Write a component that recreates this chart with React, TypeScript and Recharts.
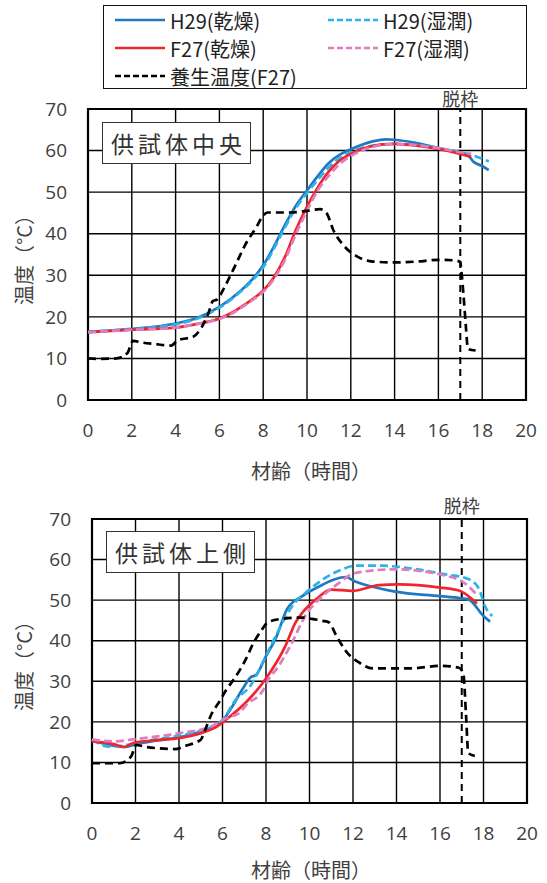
import React from 'react';
import { LineChart, Line, XAxis, YAxis, CartesianGrid, ReferenceLine, ReferenceArea } from 'recharts';

// [材齢(h), 温度(°C)]
const xTicks = [0, 2, 4, 6, 8, 10, 12, 14, 16, 18, 20];
const yTicks = [0, 10, 20, 30, 40, 50, 60, 70];
const demoldTime = 17;

// 供試体中央
const centerH29Dry: [number, number][] = [
  [0, 16.4], [1, 16.7], [2, 17.1], [3, 17.6], [4, 18.4], [5, 19.8], [6, 22.4], [7, 26.4], [7.5, 29],
  [8, 32.4], [8.5, 37], [9, 42.2], [9.5, 46.8], [10, 50.4], [10.5, 53.9], [11, 57], [11.5, 59], [12, 60.3],
  [12.5, 61.4], [13, 62.2], [13.6, 62.7], [14, 62.6], [15, 61.8], [16, 60.6], [17, 59.4], [17.4, 58.6],
  [17.6, 57.3], [18, 56.3], [18.3, 55.3],
];
const centerH29Wet: [number, number][] = [
  [0, 16.4], [1, 16.7], [2, 17.0], [3, 17.5], [4, 18.2], [5, 19.6], [6, 22.2], [7, 26.2], [7.5, 28.7],
  [8, 31.9], [8.5, 36.5], [9, 41.6], [9.5, 46.2], [10, 49.8], [10.5, 53], [11, 56], [11.5, 58.2], [12, 59.6],
  [12.5, 60.6], [13, 61.2], [14, 61.6], [15, 61.3], [16, 60.6], [17, 59.6], [17.6, 58.8], [18.3, 57.4],
];
const centerF27Dry: [number, number][] = [
  [0, 16.3], [1, 16.6], [2, 16.9], [3, 17.1], [4, 17.4], [5, 18.3], [6, 19.6], [6.5, 20.8], [7, 22.4],
  [7.5, 24.2], [8, 26.3], [8.5, 29.6], [9, 34.5], [9.5, 41], [10, 46.5], [10.5, 51.2], [11, 55], [11.5, 57.6],
  [12, 59.2], [12.5, 60.4], [13, 61.1], [13.5, 61.5], [14, 61.6], [15, 61.2], [16, 60.4], [17, 59.2], [17.5, 58.5],
];
const centerF27Wet: [number, number][] = [
  [0, 16.3], [1, 16.6], [2, 16.9], [3, 17.1], [4, 17.4], [5, 18.3], [6, 19.5], [6.5, 20.6], [7, 22.2],
  [7.5, 24], [8, 26], [8.5, 29.2], [9, 33.8], [9.5, 40], [10, 45.5], [10.5, 50.5], [11, 54], [11.5, 56.8],
  [12, 58.7], [12.5, 60], [13, 60.9], [14, 61.6], [15, 61.3], [16, 60.6], [17, 59.6], [17.5, 59.2],
];
const centerCuring: [number, number][] = [
  [0, 10], [0.5, 9.9], [1.3, 10], [1.8, 11.3], [2.05, 14.2], [2.5, 13.8], [3, 13.5], [3.8, 13.1], [4.1, 14.4],
  [4.8, 15.2], [5.2, 17.6], [5.5, 20.9], [5.7, 23.8], [5.9, 24.2], [6.2, 26.8], [6.6, 31], [7.25, 38],
  [7.7, 41.7], [7.95, 44], [8.2, 45.1], [9.2, 45.1], [10, 45.5], [10.6, 45.9], [10.9, 44.9], [11.2, 40.9],
  [11.65, 37.3], [12.3, 34.5], [13, 33.3], [14, 33.1], [15, 33.3], [16, 33.7], [16.7, 33.6], [17, 33.2],
  [17.05, 31], [17.15, 25], [17.25, 18], [17.35, 12.3], [17.7, 11.9],
];

// 供試体上側
const upperH29Dry: [number, number][] = [
  [0, 15.4], [0.8, 14.3], [1.5, 13.8], [1.95, 14.4], [3, 15.4], [4, 16.2], [5.2, 18], [6, 20.3], [6.45, 23.8],
  [6.9, 27.9], [7.3, 31], [7.55, 31.6], [8, 36.2], [8.45, 40.6], [8.98, 47.9], [9.67, 51], [10.6, 53.8],
  [11.2, 55.2], [11.65, 55.7], [12.1, 54.6], [12.9, 53.3], [13.94, 52.1], [16, 51], [16.9, 50.5],
  [17.3, 50.2], [18, 46.1], [18.3, 44.7],
];
const upperH29Wet: [number, number][] = [
  [0, 15.7], [0.8, 13.9], [1.6, 14.3], [2, 14.8], [4, 16.6], [5, 17.8], [6, 20.5], [6.6, 25.4], [7.3, 29],
  [8, 36.3], [8.6, 42.8], [9.2, 48.5], [10, 52.6], [10.7, 55.4], [11.5, 57.6], [12.1, 58.5], [13.2, 58.5],
  [14.7, 57.8], [16.2, 56.4], [17.3, 55.2], [17.8, 52.7], [18.06, 48.6], [18.4, 46.1],
];
const upperF27Dry: [number, number][] = [
  [0, 15.2], [1, 14.5], [1.5, 13.8], [1.9, 14.8], [3, 15.5], [4, 16], [5.1, 17.4], [5.7, 18.7], [6.2, 20.7],
  [7.15, 25.2], [8, 30.7], [8.9, 38.8], [9.36, 44.5], [9.67, 46.9], [10.3, 50.2], [11, 52.6], [11.95, 52.3],
  [13.2, 53.7], [14.1, 53.9], [16, 53.1], [16.9, 52.3], [17.3, 51], [17.7, 49.2],
];
const upperF27Wet: [number, number][] = [
  [0, 15.7], [1, 15.2], [1.9, 15.7], [4, 17.2], [5.5, 18.9], [6.15, 20.9], [6.8, 22.3], [7.1, 24.2],
  [7.84, 27.6], [8.1, 30.3], [8.6, 33.9], [9.2, 39.6], [9.8, 46.1], [10.6, 51], [11.35, 54.2], [12.1, 56.7],
  [13.9, 57.6], [16.2, 56.1], [17.1, 54.3], [17.75, 51],
];
const upperCuring: [number, number][] = [
  [0, 9.8], [1.27, 9.8], [1.8, 11.5], [2.03, 14.3], [2.5, 13.8], [3.86, 13.3], [4.3, 14.1], [5, 15.6],
  [5.2, 18], [5.5, 22], [5.86, 25], [6.16, 27.8], [6.55, 30.7], [7.08, 35.5], [7.4, 39.2], [7.77, 42.4],
  [8.07, 44.5], [8.6, 45.3], [9.67, 45.7], [10.1, 45.4], [10.6, 44.9], [10.9, 44.5], [11.2, 41.6],
  [11.65, 37.6], [12.26, 34.7], [12.9, 33.2], [14.7, 33.2], [16, 33.8], [16.84, 33.4], [17.07, 32],
  [17.2, 21.3], [17.3, 12.3], [17.6, 11.6],
];

const FONT = '"Noto Sans CJK JP", "Noto Sans", sans-serif';
const NUM_FONT = '"Open Sans", "Noto Sans", sans-serif';
const TEXT = '#404040';

const seriesStyle = [
  { name: 'H29(乾燥)', color: '#1f78c1', dash: undefined },
  { name: 'H29(湿潤)', color: '#2bb3e8', dash: '8 4' },
  { name: 'F27(乾燥)', color: '#f0262e', dash: undefined },
  { name: 'F27(湿潤)', color: '#e07cc0', dash: '8 4' },
  { name: '養生温度(F27)', color: '#000000', dash: '8 5' },
];

const toRows = (pairs: [number, number][]) => pairs.map(([t, v]) => ({ t, v }));

type PanelProps = {
  top: number;
  height: number;
  margin: { top: number; right: number; left: number; bottom: number };
  title: string;
  titleBox: { left: number; top: number };
  series: [number, number][][];
  labelOffset: number;
};

function Panel({ top, height, margin, title, titleBox, series, labelOffset }: PanelProps) {
  return (
    <div style={{ position: 'absolute', left: 0, top, width: 547, height }}>
      <LineChart width={547} height={height} margin={margin}>
        <CartesianGrid stroke="#000" strokeWidth={1.4} />
        <XAxis
          type="number"
          dataKey="t"
          domain={[0, 20]}
          ticks={xTicks}
          interval={0}
          height={80}
          axisLine={false}
          tickLine={false}
          tickMargin={18}
          tick={{ fontSize: 19, fill: TEXT, fontFamily: NUM_FONT }}
        />
        <YAxis
          type="number"
          domain={[0, 70]}
          ticks={yTicks}
          interval={0}
          width={60}
          axisLine={false}
          tickLine={false}
          tickMargin={15}
          tick={{ fontSize: 19, fill: TEXT, fontFamily: NUM_FONT }}
        />
        <ReferenceArea x1={0} x2={20} y1={0} y2={70} fill="none" fillOpacity={0} stroke="#000" strokeWidth={2.2} />
        <ReferenceLine
          x={demoldTime}
          stroke="#000"
          strokeWidth={2}
          strokeDasharray="7 5"
          label={{ value: '脱枠', position: 'top', offset: labelOffset, fill: TEXT, fontSize: 18, fontFamily: FONT }}
        />
        {series.map((pairs, i) => (
          <Line
            key={seriesStyle[i].name}
            data={toRows(pairs)}
            dataKey="v"
            name={seriesStyle[i].name}
            type="monotone"
            stroke={seriesStyle[i].color}
            strokeWidth={2.7}
            strokeDasharray={seriesStyle[i].dash}
            dot={false}
            isAnimationActive={false}
          />
        ))}
      </LineChart>
      <div
        style={{
          position: 'absolute', left: titleBox.left, top: titleBox.top, width: 149, height: 42,
          boxSizing: 'border-box', border: '1.5px solid #333', background: '#fff',
          display: 'flex', alignItems: 'center', justifyContent: 'center',
          fontFamily: FONT, fontSize: 23, letterSpacing: 4, paddingLeft: 4, color: '#333',
        }}
      >
        {title}
      </div>
    </div>
  );
}

function Legend() {
  const cols = [114, 327];
  const rows = [19, 47, 75];
  return (
    <div
      style={{
        position: 'absolute', left: 103, top: 5, width: 424, height: 84,
        boxSizing: 'border-box', border: '1.5px solid #111', background: '#fff',
      }}
    >
      {seriesStyle.map((s, i) => {
        const left = cols[i === 4 ? 0 : i % 2] - 103;
        const top = rows[Math.floor(i / 2)] - 5 - 14;
        return (
          <div key={s.name} style={{ position: 'absolute', left, top, height: 28, display: 'flex', alignItems: 'center', whiteSpace: 'nowrap' }}>
            <svg width={50} height={6} style={{ marginRight: 5 }}>
              <line x1={0} y1={3} x2={50} y2={3} stroke={s.color} strokeWidth={2.6} strokeDasharray={s.dash ? '6 3' : undefined} />
            </svg>
            <span style={{ fontFamily: FONT, fontSize: 20, color: '#222' }}>{s.name}</span>
          </div>
        );
      })}
    </div>
  );
}

const axisTitle: React.CSSProperties = {
  position: 'absolute', fontFamily: FONT, fontSize: 20, color: TEXT, whiteSpace: 'nowrap',
};

export default function App() {
  return (
    <div style={{ position: 'absolute', left: 0, top: 0, width: 547, height: 883, background: '#fff' }}>
      <Panel
        top={0}
        height={480}
        margin={{ top: 109, right: 21, left: 28, bottom: 0 }}
        title="供試体中央"
        titleBox={{ left: 102, top: 122 }}
        series={[centerH29Dry, centerH29Wet, centerF27Dry, centerF27Wet, centerCuring]}
        labelOffset={3}
      />
      <Panel
        top={480}
        height={403}
        margin={{ top: 39, right: 20, left: 32, bottom: 0 }}
        title="供試体上側"
        titleBox={{ left: 106, top: 51 }}
        series={[upperH29Dry, upperH29Wet, upperF27Dry, upperF27Wet, upperCuring]}
        labelOffset={6}
      />
      <Legend />
      <div style={{ ...axisTitle, left: 23, top: 255, transform: 'translate(-50%, -50%) rotate(-90deg)' }}>温度（°C）</div>
      <div style={{ ...axisTitle, left: 23, top: 661, transform: 'translate(-50%, -50%) rotate(-90deg)' }}>温度（°C）</div>
      <div style={{ ...axisTitle, left: 311, top: 470, transform: 'translate(-50%, -50%)' }}>材齢（時間）</div>
      <div style={{ ...axisTitle, left: 311, top: 869, transform: 'translate(-50%, -50%)' }}>材齢（時間）</div>
    </div>
  );
}
